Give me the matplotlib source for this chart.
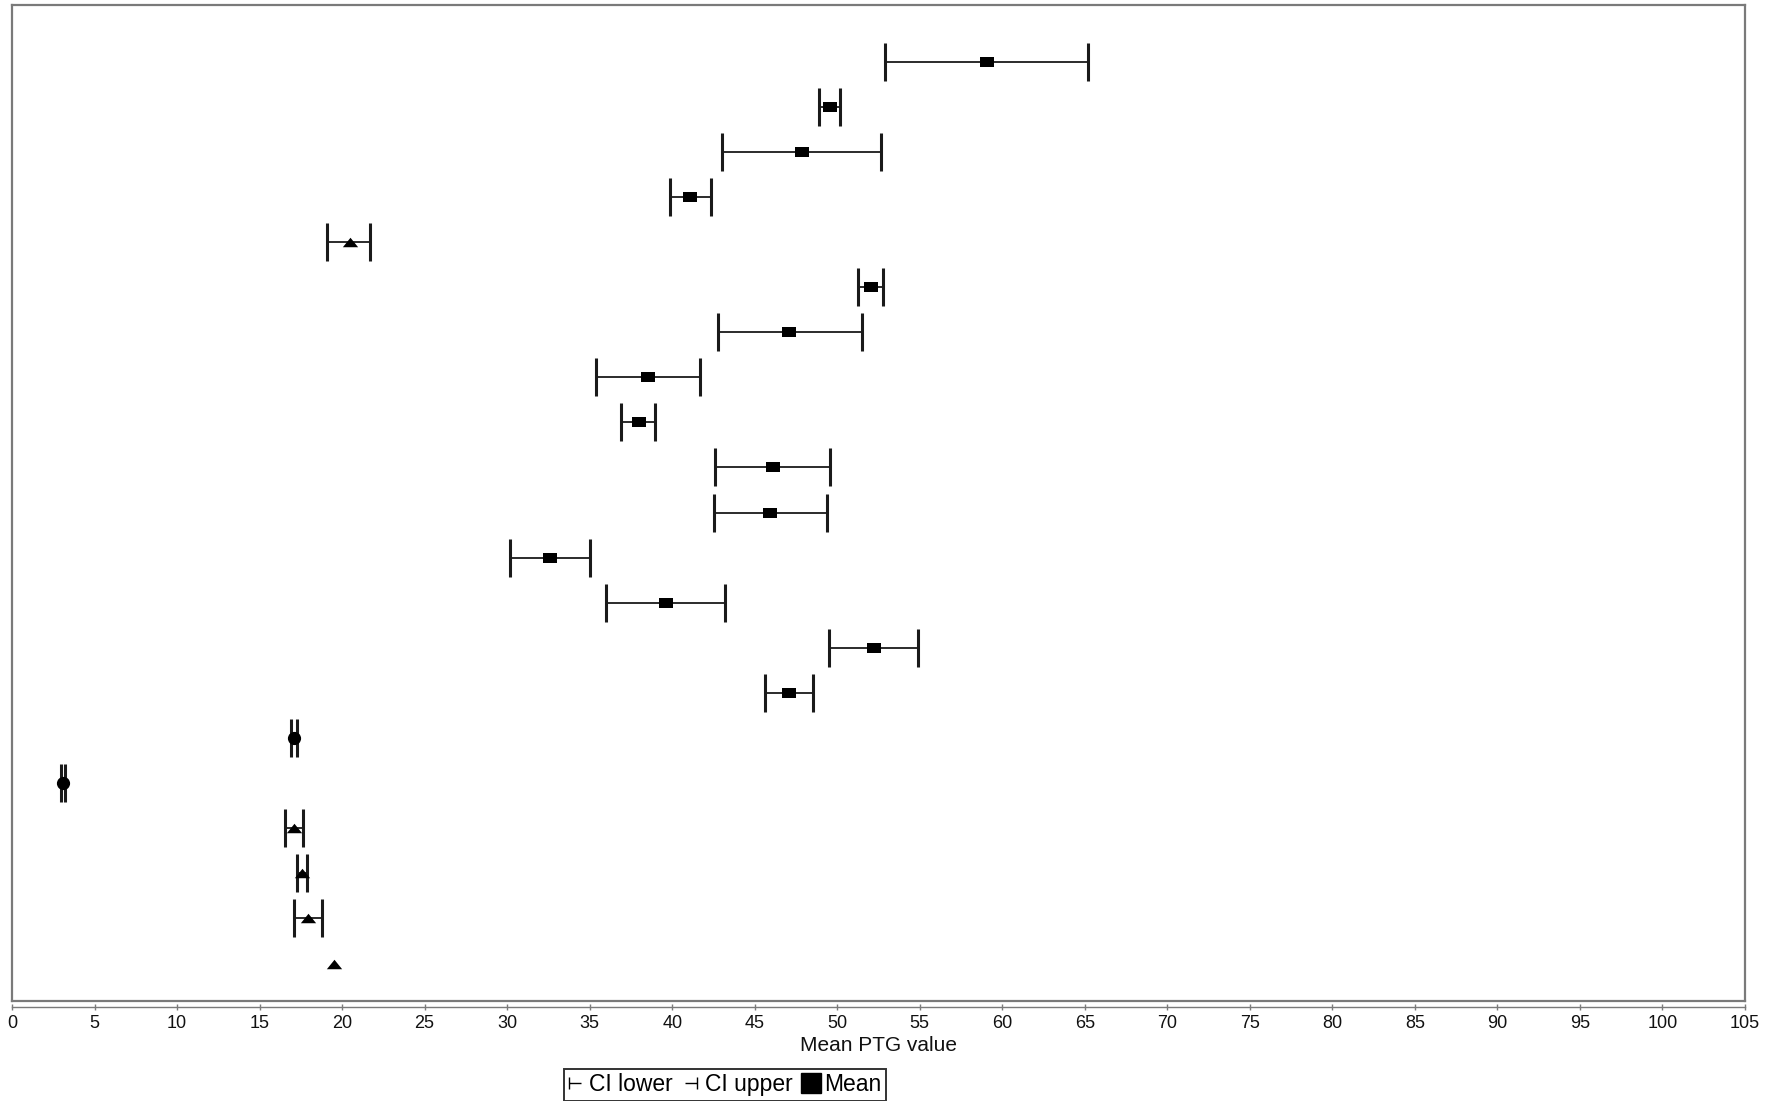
import matplotlib
matplotlib.use("Agg")
from matplotlib import pyplot as plt
from matplotlib.path import Path
from matplotlib.lines import Line2D
import numpy as np

plt.rcParams['font.family'] = ['Liberation Sans', 'DejaVu Sans']

# Values, top row first
mean_ptg = [59.1, 49.55, 47.85, 41.1, 20.45, 52.05, 47.1, 38.55, 38.0, 46.1, 45.9,
            32.6, 39.6, 52.2, 47.05, 17.07, 3.1, 17.1, 17.58, 17.94, 19.52]
ci_lower = [52.9, 48.9, 43.0, 39.87, 19.06, 51.26, 42.78, 35.4, 36.92, 42.57, 42.51,
            30.2, 36.0, 49.5, 45.64, 16.93, 2.96, 16.53, 17.28, 17.07, np.nan]
ci_upper = [65.2, 50.16, 52.67, 42.34, 21.72, 52.77, 51.5, 41.67, 38.98, 49.58, 49.38,
            35.0, 43.18, 54.91, 48.51, 17.24, 3.23, 17.62, 17.89, 18.8, np.nan]
group = ['square'] * 4 + ['triangle'] + ['square'] * 10 + ['circle'] * 2 + ['triangle'] * 4

x_ticks = list(range(0, 106, 5))
legend_labels = ['CI lower', 'CI upper', 'Mean']

FRAME = '#7a7a7a'
INK = '#1a1a1a'

# marker shapes
rect = Path([(-1, -0.72), (1, -0.72), (1, 0.72), (-1, 0.72), (-1, -0.72)],
            [Path.MOVETO, Path.LINETO, Path.LINETO, Path.LINETO, Path.CLOSEPOLY])
tri = Path([(0, 0.62), (1, -0.62), (-1, -0.62), (0, 0.62)],
           [Path.MOVETO, Path.LINETO, Path.LINETO, Path.CLOSEPOLY])
lower_glyph = Path([(-0.5, -0.5), (-0.5, 0.5), (-0.5, 0), (0.5, 0)],
                   [Path.MOVETO, Path.LINETO, Path.MOVETO, Path.LINETO])
upper_glyph = Path([(0.5, -0.5), (0.5, 0.5), (0.5, 0), (-0.5, 0)],
                   [Path.MOVETO, Path.LINETO, Path.MOVETO, Path.LINETO])
shapes = {'square': (rect, 10), 'triangle': (tri, 11), 'circle': ('o', 9.5)}

W, H = 1788, 1101
fig = plt.figure(figsize=(W / 100, H / 100), dpi=100)
ax = fig.add_axes([12 / W, 1 - 1001 / H, (1745 - 12) / W, (1001 - 5) / H])

rows = np.arange(1, len(mean_ptg) + 1)
mean = np.array(mean_ptg)
lo = np.array(ci_lower)
hi = np.array(ci_upper)
has_ci = ~np.isnan(lo)

ax.errorbar(mean[has_ci], rows[has_ci],
            xerr=[mean[has_ci] - lo[has_ci], hi[has_ci] - mean[has_ci]],
            fmt='none', ecolor=INK, elinewidth=1.3, capsize=13.5, capthick=2.2, zorder=2)

for kind in shapes:
    m, ms = shapes[kind]
    sel = np.array([g == kind for g in group])
    ax.plot(mean[sel], rows[sel], linestyle='none', marker=m, markersize=ms,
            color='black', markeredgewidth=0, zorder=3)

ax.set_xlim(0, 105)
ax.set_ylim(21.83, -0.255)
ax.set_yticks([])
ax.set_xticks(x_ticks)
ax.tick_params(axis='x', direction='inout', length=5, width=1, color=FRAME,
               labelsize=13, pad=3, labelcolor='#111111')

for side in ['top', 'left', 'right']:
    ax.spines[side].set_color(FRAME)
    ax.spines[side].set_linewidth(1.6)
# bottom edge of the box, then the axis line sits a few pixels under it
ax.plot([0, 1], [0, 0], transform=ax.transAxes, color=FRAME, linewidth=1.6,
        clip_on=False, solid_capstyle='projecting')
ax.spines['bottom'].set_position(('outward', 4.5))
ax.spines['bottom'].set_color(FRAME)
ax.spines['bottom'].set_linewidth(1.0)

ax.set_xlabel('Mean PTG value', fontsize=15, labelpad=3, color='#111111')

handles = [
    Line2D([], [], linestyle='none', marker=lower_glyph, markersize=8,
           markeredgewidth=1, color='black'),
    Line2D([], [], linestyle='none', marker=upper_glyph, markersize=8,
           markeredgewidth=1, color='black'),
    Line2D([], [], linestyle='none', marker='s', markersize=14, color='black'),
]
fig.legend(handles, legend_labels, loc='lower center', bbox_to_anchor=(725 / W, 0.0),
           ncol=3, fontsize=16.5, frameon=True, fancybox=False, edgecolor='black',
           handlelength=0.6, handletextpad=0.3, columnspacing=0.5,
           borderpad=0.2, borderaxespad=0.0)
fig.legends[0].get_frame().set_linewidth(1.4)

fig.savefig('out.png', dpi=100)
